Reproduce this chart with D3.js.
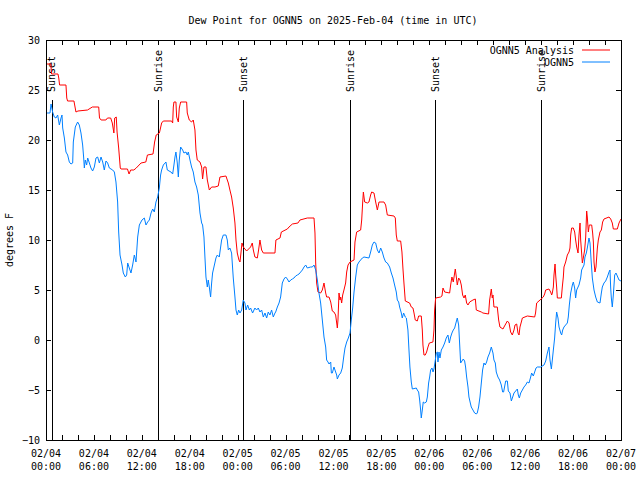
<html>
<head>
    <script type="text/javascript" src="https://d3js.org/d3.v7.min.js"></script>
    <meta charset="UTF-8">
    <style>
        body { margin: 0; background: #fff; }
        text { font-family: "DejaVu Sans Mono", monospace; font-size: 10px; fill: #000; }
    </style>
</head>
<body>
    <svg width="640" height="480"></svg>
    <script>
        // hours after 2025-02-04 00:00 UTC
        var anaHours = [0,0.6,0.7,1.5,1.6,1.7,2.5,2.6,2.7,3.5,3.75,4.0,5.2,5.8,6.6,6.7,6.9,7.5,7.7,8.1,8.3,8.5,8.6,8.8,8.9,9.1,9.3,9.4,10.2,10.4,10.6,11.0,11.3,11.9,12.5,12.7,13.4,13.6,13.8,14.2,14.48,14.69,15.73,15.86,15.94,16.02,16.27,16.36,16.57,16.69,16.86,17.61,17.69,17.94,18.23,18.44,18.65,18.78,18.94,19.28,19.49,19.61,19.78,20.03,20.2,20.45,20.74,21.16,21.57,21.78,22.53,22.83,23.03,23.24,23.45,23.66,23.79,23.95,24.16,24.29,24.41,24.54,24.7,25.12,25.62,25.83,25.96,26.16,26.46,26.62,26.79,27.0,27.21,28.67,28.79,29.3,29.47,30.22,30.43,30.85,31.55,31.8,32.72,33.56,33.68,33.77,33.89,34.06,34.39,34.6,34.81,35.02,35.14,35.44,35.65,35.85,36.06,36.27,36.4,36.48,36.56,36.69,36.81,36.9,37.02,37.15,37.31,37.52,37.65,37.82,38.07,38.57,38.69,38.9,39.4,39.53,39.65,39.74,39.9,40.24,40.44,40.65,40.78,41.07,41.28,41.49,41.7,42.32,42.53,42.74,43.57,43.74,43.86,43.99,44.41,44.57,44.7,44.82,44.99,45.53,45.74,45.95,46.08,46.24,46.49,46.66,46.99,47.12,47.2,47.33,47.49,47.66,47.83,48.0,48.45,48.58,48.66,48.79,49.41,49.58,49.71,49.92,50.54,50.67,50.83,51.0,51.17,51.25,51.38,51.5,51.67,51.84,52.0,52.17,52.34,52.5,52.67,52.84,53.05,53.46,53.76,53.88,54.51,54.71,55.42,55.55,55.76,55.88,55.97,56.09,56.51,56.68,56.84,57.22,57.35,57.77,57.98,58.18,58.39,58.6,58.73,58.94,59.1,59.23,59.35,59.52,59.65,60.27,61.19,61.3,61.44,61.86,62.27,62.44,62.57,62.98,63.19,63.32,63.4,63.53,63.61,63.74,63.82,63.94,64.03,64.53,64.65,64.78,64.86,65.07,65.28,65.49,65.61,65.7,65.82,66.03,66.2,66.32,66.45,66.62,66.74,66.87,66.95,67.07,67.16,67.28,67.45,67.58,67.7,67.78,67.91,68.03,68.33,68.45,68.54,68.62,68.74,68.87,69.04,69.16,69.37,69.54,69.7,69.87,70.5,70.71,70.91,71.04,71.54,71.75,72.0];
        var anaDew = [27.6,27.6,26.6,26.6,26.2,25.5,25.5,24.2,23.9,23.9,22.8,22.9,23.0,23.3,23.3,22.2,22.0,22.0,22.2,22.2,21.7,20.7,22.2,22.3,20.8,19.2,17.2,17.1,17.1,16.6,17.0,17.0,17.2,17.7,17.8,18.5,18.6,19.8,20.5,20.7,21.7,21.9,21.9,21.7,23.3,23.8,23.8,22.3,21.8,23.2,23.8,23.8,22.7,22.0,21.8,22.0,21.0,19.0,18.0,17.8,17.3,16.1,17.3,17.3,16.0,15.0,15.3,15.3,15.4,16.3,16.4,15.7,15.0,14.3,13.2,11.7,10.0,8.7,8.0,7.8,8.7,9.7,9.3,8.9,9.3,9.7,9.0,8.3,8.2,9.0,10.0,9.0,8.7,8.7,10.0,10.2,10.8,11.1,11.3,11.6,11.7,12.0,12.2,12.2,10.7,7.7,5.7,4.8,4.7,5.0,5.7,4.7,4.3,4.3,3.8,2.9,2.8,2.5,1.7,1.2,2.0,4.7,4.0,4.3,3.7,4.5,5.0,5.7,6.8,7.5,7.8,8.0,9.8,10.8,11.0,12.0,13.7,14.8,13.8,13.7,13.8,14.5,14.8,14.7,13.8,13.0,13.8,13.8,13.5,12.5,12.4,12.2,10.5,9.9,9.9,8.8,7.1,5.7,3.9,3.7,3.3,3.2,2.7,2.0,1.9,2.4,2.4,1.0,-0.5,-1.5,-1.5,-1.2,-0.7,-0.3,-0.2,1.0,3.0,4.2,4.3,4.4,5.2,4.8,4.7,5.5,6.3,5.8,6.7,7.1,6.3,5.5,6.2,6.0,5.5,4.5,4.2,4.5,3.7,3.5,3.8,4.0,4.1,3.0,2.8,2.7,2.6,4.0,5.1,4.2,4.5,3.3,3.3,2.0,1.3,1.1,1.3,1.9,1.7,0.8,0.5,1.0,1.5,1.6,0.7,0.5,1.3,1.8,2.2,2.4,2.3,2.7,3.7,4.0,4.3,4.6,5.0,5.1,4.8,4.5,4.7,5.3,6.5,7.6,6.5,5.3,4.2,4.2,5.3,6.3,7.3,7.8,8.5,8.8,9.2,10.5,11.2,11.2,10.8,10.0,9.3,8.7,10.5,11.7,10.0,8.7,7.7,8.2,9.0,10.3,12.9,12.3,10.8,11.5,11.5,10.7,9.8,7.8,6.8,7.3,9.2,10.0,10.8,11.0,11.8,12.1,12.3,12.1,11.7,11.1,11.1,11.7,12.1];

        var obsHours = [0,0.5,0.63,0.83,1.04,1.25,1.46,1.67,1.88,2.0,2.09,2.3,2.5,2.71,2.92,3.13,3.34,3.42,3.67,3.96,4.17,4.38,4.59,4.72,4.8,4.92,5.09,5.22,5.43,5.63,5.84,6.05,6.26,6.47,6.68,6.89,7.1,7.3,7.51,7.72,7.93,8.35,8.56,8.76,8.97,9.1,9.27,9.52,9.68,9.93,10.1,10.23,10.43,10.64,10.85,11.06,11.27,11.48,11.69,12.02,12.31,12.52,12.73,12.94,13.15,13.36,13.56,13.77,13.98,14.19,14.35,14.48,14.69,15.02,15.19,15.65,15.86,16.02,16.15,16.27,16.44,16.57,16.69,16.86,17.11,17.27,17.53,17.69,17.82,18.03,18.23,18.44,18.65,18.86,19.07,19.28,19.49,19.61,19.78,19.9,20.03,20.2,20.32,20.45,20.61,20.74,20.86,21.03,21.28,21.45,21.7,21.78,21.99,22.2,22.53,22.7,22.83,23.03,23.24,23.45,23.66,23.79,23.95,24.12,24.29,24.5,24.7,24.91,25.04,25.25,25.46,25.62,25.87,26.16,26.37,26.58,26.79,27.0,27.21,27.42,27.63,27.83,28.04,28.25,28.46,28.67,28.76,28.97,29.18,29.38,29.59,29.8,30.01,30.22,30.43,30.64,30.85,31.05,31.26,31.47,31.68,31.89,32.1,32.31,32.52,32.72,33.14,33.35,33.56,33.77,33.98,34.18,34.39,34.6,34.81,35.02,35.14,35.31,35.44,35.65,35.73,35.85,36.06,36.27,36.4,36.48,36.69,36.9,37.1,37.31,37.44,37.65,37.86,38.07,38.23,38.4,38.57,38.78,38.98,39.19,39.4,39.61,39.82,40.44,40.65,40.86,41.07,41.28,41.49,41.7,41.91,42.11,42.32,42.53,42.74,43.03,43.24,43.45,43.65,43.86,43.99,44.16,44.28,44.49,44.61,44.78,44.99,45.12,45.32,45.45,45.57,45.74,45.87,46.37,46.49,46.66,46.79,46.91,46.99,47.12,47.24,47.41,47.62,47.75,47.91,48.04,48.16,48.33,48.46,48.58,48.75,48.87,49.0,49.08,49.21,49.33,49.5,49.71,49.92,50.12,50.33,50.5,50.67,50.83,51.0,51.17,51.33,51.5,51.67,51.79,51.92,52.25,52.42,52.54,52.67,52.84,52.96,53.13,53.25,53.46,53.67,53.88,54.0,54.17,54.34,54.51,54.67,54.84,55.0,55.17,55.34,55.55,55.76,55.97,56.09,56.26,56.38,56.59,56.8,57.01,57.18,57.3,57.56,57.77,57.89,58.1,58.27,58.6,59.02,59.14,59.27,59.44,59.65,59.85,60.06,60.27,60.48,60.69,60.81,61.02,61.19,61.36,61.52,61.94,62.36,62.57,62.78,62.98,63.11,63.28,63.4,63.53,63.69,63.82,63.94,64.11,64.24,64.45,64.57,64.7,64.86,65.07,65.28,65.4,65.53,65.7,65.91,66.03,66.2,66.32,66.45,66.74,66.95,67.07,67.37,67.49,67.66,67.78,67.99,68.12,68.28,68.41,68.62,68.83,69.04,69.37,69.54,69.66,69.87,70.08,70.29,70.5,70.62,70.71,70.79,70.91,71.04,71.21,71.37,71.54,71.75,72.0];
        var obsDew = [22.7,22.7,23.6,22.8,22.3,22.2,22.5,21.5,22.2,22.5,21.2,20.2,18.8,18.5,17.8,17.6,17.7,19.8,21.3,21.8,21.5,20.7,19.5,18.2,17.2,18.0,17.5,18.2,17.7,17.2,16.9,17.3,18.2,18.3,17.7,18.3,17.8,17.0,17.9,17.7,17.2,17.0,16.8,15.8,13.8,10.8,8.5,7.5,6.7,6.3,6.5,7.7,7.2,6.7,7.5,8.5,7.8,10.3,11.5,12.0,12.2,11.5,11.8,12.0,12.7,13.1,12.8,13.8,14.3,15.2,16.5,17.0,17.5,17.8,17.0,16.8,16.6,17.5,18.3,18.8,17.7,16.3,18.0,19.3,19.0,18.7,18.8,18.5,18.8,18.0,17.3,16.8,15.8,15.3,14.5,12.7,11.7,11.5,10.3,8.3,6.3,5.3,6.0,5.3,4.3,5.7,6.7,7.3,8.2,8.5,8.3,8.8,10.0,10.5,10.5,10.0,9.0,9.2,8.7,6.2,4.3,3.0,2.5,3.0,2.7,3.0,4.0,3.7,3.0,3.5,3.0,3.2,2.7,3.2,3.0,3.2,2.8,3.0,2.3,2.7,2.2,2.8,2.5,3.0,2.3,2.7,2.8,3.3,3.7,4.3,5.7,6.1,6.3,6.1,5.8,6.0,6.1,6.2,6.4,6.5,6.6,6.8,7.0,7.3,7.5,7.2,7.3,7.3,7.5,7.0,6.0,4.7,3.7,2.0,0.3,-0.7,-2.0,-2.2,-2.4,-2.2,-3.3,-3.3,-2.7,-3.2,-3.5,-3.9,-3.5,-3.3,-2.8,-1.5,-0.8,-0.2,0.2,0.7,2.0,3.2,4.8,6.3,7.5,7.8,8.0,8.2,8.3,8.2,8.8,9.5,9.8,9.7,9.0,8.7,9.2,8.8,8.2,7.8,7.7,7.3,6.7,6.2,5.5,4.8,4.0,3.8,3.3,2.7,2.2,2.7,2.3,2.2,1.0,-1.0,-2.7,-4.2,-4.9,-4.8,-5.0,-5.2,-6.0,-7.0,-7.8,-7.0,-6.2,-6.3,-6.2,-5.7,-4.3,-3.7,-3.0,-2.8,-3.2,-2.9,-2.0,-1.3,-1.2,-2.2,-1.2,-1.8,-1.0,-0.7,-0.3,0.2,0.5,-0.3,0.3,0.7,1.0,1.2,1.7,2.2,1.5,-0.3,-2.3,-1.9,-2.1,-2.7,-3.7,-4.7,-5.7,-6.3,-6.7,-7.0,-7.3,-7.4,-7.3,-6.7,-5.7,-4.3,-3.0,-2.3,-2.5,-2.2,-1.7,-1.3,-0.7,-1.3,-2.0,-2.3,-3.2,-3.7,-4.0,-4.5,-5.2,-5.2,-4.1,-4.1,-5.1,-5.3,-6.1,-5.3,-4.9,-5.5,-5.8,-5.3,-5.0,-4.7,-4.5,-4.2,-4.3,-3.7,-3.3,-3.6,-3.2,-2.8,-2.7,-2.7,-2.5,-2.1,-1.3,-0.7,-2.0,-2.9,-2.0,-1.0,0.2,1.7,2.8,2.2,1.3,0.7,0.5,1.0,1.3,1.5,1.7,2.3,3.5,4.7,5.5,5.8,5.2,4.2,5.0,5.5,6.2,7.0,7.5,8.3,8.7,9.2,10.2,9.7,7.7,6.2,5.0,4.3,3.8,3.7,4.7,5.3,5.7,5.9,6.3,6.8,7.0,5.2,4.2,3.3,4.5,6.5,6.7,6.4,6.0,5.9];

        var sunHours = [0.71, 14.06, 24.7, 38.1, 48.75, 62.02];
        var sunLabels = ["Sunset", "Sunrise", "Sunset", "Sunrise", "Sunset", "Sunrise"];
        var yTicks = [-10, -5, 0, 5, 10, 15, 20, 25, 30];
        var seriesNames = ["OGNN5 Analysis", "OGNN5"];
        var seriesColors = ["#ff0000", "#0080ff"];

        var t0 = Date.UTC(2025, 1, 4, 0, 0);
        function toDate(h) { return new Date(t0 + h * 3600e3); }

        var marge = {top: 40, bottom: 40, left: 46, right: 19};
        var svg = d3.select("svg");
        var width = +svg.attr("width") - marge.left - marge.right;
        var height = +svg.attr("height") - marge.top - marge.bottom;
        var g = svg.append("g").attr("transform", "translate(" + marge.left + "," + marge.top + ")");

        var xScale = d3.scaleUtc().domain([toDate(0), toDate(72)]).range([0, width]);
        var yScale = d3.scaleLinear().domain([-10, 30]).range([height, 0]);

        var minorTicks = d3.range(0, 73, 2).map(toDate);
        var majorTicks = d3.range(0, 73, 6).map(toDate);

        // tick marks on all four sides, pointing inward
        g.append("g").attr("transform", "translate(0," + height + ")")
            .call(d3.axisBottom(xScale).tickValues(minorTicks).tickSize(-5).tickFormat(""));
        g.append("g")
            .call(d3.axisTop(xScale).tickValues(minorTicks).tickSize(-5).tickFormat(""));
        g.append("g")
            .call(d3.axisLeft(yScale).tickValues(yTicks).tickSize(-5).tickPadding(6));
        g.append("g").attr("transform", "translate(" + width + ",0)")
            .call(d3.axisRight(yScale).tickValues(yTicks).tickSize(-5).tickFormat(""));
        g.selectAll(".domain").remove();
        g.selectAll(".tick line").attr("stroke", "#000").attr("shape-rendering", "crispEdges");
        g.selectAll(".tick text").style("font-family", "DejaVu Sans Mono").style("font-size", "10px").attr("fill", "#000");

        // two line date labels
        var fmtDay = d3.utcFormat("%m/%d"), fmtHour = d3.utcFormat("%H:%M");
        var xl = g.selectAll(".xl").data(majorTicks).enter().append("text")
            .attr("text-anchor", "middle")
            .attr("transform", function(d) { return "translate(" + xScale(d) + "," + (height + 17) + ")"; });
        xl.append("tspan").attr("x", 0).attr("y", 0).text(function(d) { return fmtDay(d); });
        xl.append("tspan").attr("x", 0).attr("y", 13).text(function(d) { return fmtHour(d); });

        // sunrise / sunset markers
        var sun = g.selectAll(".sun").data(sunHours).enter().append("g");
        sun.append("line")
            .attr("x1", function(d) { return Math.round(xScale(toDate(d))) + 0.5; })
            .attr("x2", function(d) { return Math.round(xScale(toDate(d))) + 0.5; })
            .attr("y1", 60).attr("y2", height)
            .attr("stroke", "#000");
        sun.append("text")
            .attr("transform", function(d) { return "translate(" + xScale(toDate(d)) + ",52) rotate(-90)"; })
            .attr("dy", "0.35em")
            .text(function(d, i) { return sunLabels[i]; });

        var line = d3.line()
            .x(function(d) { return xScale(toDate(d[0])); })
            .y(function(d) { return yScale(d[1]); });

        var series = [d3.zip(anaHours, anaDew), d3.zip(obsHours, obsDew)];
        g.selectAll(".series").data(series).enter().append("path")
            .attr("d", line)
            .attr("fill", "none")
            .attr("stroke", function(d, i) { return seriesColors[i]; })
            .attr("stroke-width", 1);

        // frame
        g.append("rect").attr("x", 0.5).attr("y", 0.5).attr("width", width).attr("height", height)
            .attr("fill", "none").attr("stroke", "#000").attr("shape-rendering", "crispEdges");

        // legend
        var lg = g.selectAll(".lg").data(seriesNames).enter().append("g")
            .attr("transform", function(d, i) { return "translate(" + (width - 47) + "," + (10 + i * 12) + ")"; });
        lg.append("text").attr("text-anchor", "end").attr("dy", "0.35em").text(function(d) { return d; });
        lg.append("line").attr("x1", 8).attr("x2", 36).attr("y1", 0).attr("y2", 0)
            .attr("stroke", function(d, i) { return seriesColors[i]; }).attr("stroke-width", 1);

        svg.append("text").attr("x", 333).attr("y", 24).attr("text-anchor", "middle")
            .text("Dew Point for OGNN5 on 2025-Feb-04 (time in UTC)");
        svg.append("text").attr("transform", "translate(13,240) rotate(-90)").attr("text-anchor", "middle")
            .text("degrees F");
    </script>
</body>
</html>
